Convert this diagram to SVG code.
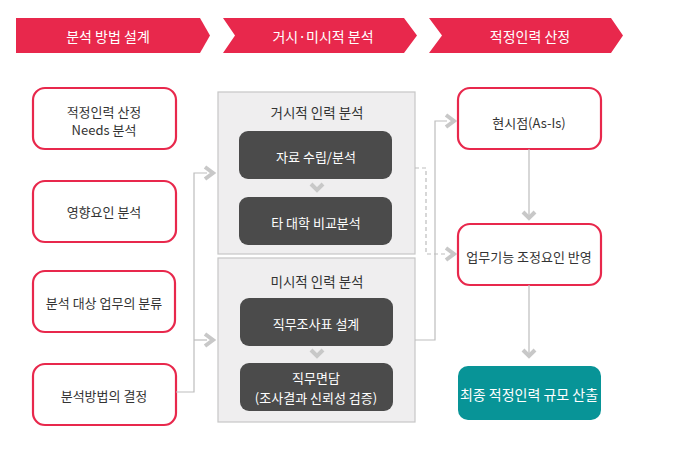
<svg xmlns="http://www.w3.org/2000/svg" width="700" height="458" viewBox="0 0 700 458">
<style>
text{font-family:"Noto Sans CJK KR","Noto Sans",sans-serif;text-anchor:middle;dominant-baseline:central}
.hd{fill:#e8284c}
.hdt{fill:#fff;font-size:14px}
.rb{fill:#fff;stroke:#e8284c;stroke-width:2.2}
.rt{fill:#333;font-size:13px}
.pn{fill:#efeeef;stroke:#c6c6c6;stroke-width:1.2}
.pt{fill:#333;font-size:13.5px}
.db{fill:#4b4b4b}
.dt{fill:#fff;font-size:13px}
.tb{fill:#089497}
.tt{fill:#fff;font-size:14px}
.ln{fill:none;stroke:#bdbdbd;stroke-width:1.2}
.dl{fill:none;stroke:#bdbdbd;stroke-width:1.2;stroke-dasharray:4 3}
.ch{fill:none;stroke:#c8c8c8;stroke-width:4;stroke-linejoin:miter}
</style>
<g id="header1"><polygon class="hd" points="16,18 200,18 210,35.5 200,53 16,53"/><text class="hdt" x="108" y="35.5">분석 방법 설계</text></g>
<g id="header2"><polygon class="hd" points="223,18 404,18 417,35.5 404,53 223,53 235,35.5"/><text class="hdt" x="323" y="35.5">거시·미시적 분석</text></g>
<g id="header3"><polygon class="hd" points="429,18 611,18 623,35.5 611,53 429,53 442,35.5"/><text class="hdt" x="530" y="35.5">적정인력 산정</text></g>

<g id="n1"><rect class="rb" x="33" y="88" width="143" height="61" rx="12"/><text class="rt" x="104" y="111">적정인력 산정</text><text class="rt" x="104" y="129.5">Needs 분석</text></g>
<g id="n2"><rect class="rb" x="33" y="181" width="143" height="61" rx="12"/><text class="rt" x="104" y="211">영향요인 분석</text></g>
<g id="n3"><rect class="rb" x="33" y="271" width="142" height="61" rx="12"/><text class="rt" x="104" y="302">분석 대상 업무의 분류</text></g>
<g id="n4"><rect class="rb" x="33" y="364" width="143" height="61" rx="12"/><text class="rt" x="104" y="395">분석방법의 결정</text></g>

<g id="macro"><rect class="pn" x="218" y="92" width="197" height="162"/><text class="pt" x="317" y="112">거시적 인력 분석</text></g>
<g id="m1"><rect class="db" x="239" y="131" width="153" height="48" rx="9"/><text class="dt" x="316" y="156">자료 수립/분석</text></g>
<g id="m2"><rect class="db" x="239" y="197" width="153" height="48" rx="9"/><text class="dt" x="316" y="222">타 대학 비교분석</text></g>

<g id="micro"><rect class="pn" x="218" y="258" width="197" height="164"/><text class="pt" x="317" y="281">미시적 인력 분석</text></g>
<g id="u1"><rect class="db" x="240" y="298" width="153" height="48" rx="9"/><text class="dt" x="316" y="323">직무조사표 설계</text></g>
<g id="u2"><rect class="db" x="240" y="363" width="153" height="48" rx="9"/><text class="dt" x="316" y="377">직무면담</text><text class="dt" x="316" y="397">(조사결과 신뢰성 검증)</text></g>

<g id="r1"><rect class="rb" x="458" y="88" width="143" height="61" rx="12"/><text class="rt" x="529" y="122">현시점(As-Is)</text></g>
<g id="r2"><rect class="rb" x="458" y="224" width="143" height="61" rx="12"/><text class="rt" x="529" y="256">업무기능 조정요인 반영</text></g>
<g id="r3"><rect class="tb" x="458" y="366" width="143" height="54" rx="10"/><text class="tt" x="529" y="394">최종 적정인력 규모 산출</text></g>

<g id="connectors">
<polyline class="ln" points="176,392 194,392 194,173 207,173"/>
<polyline class="ln" points="194,340 207,340"/>
<polyline class="ch" points="205,167 213,173 205,179"/>
<polyline class="ch" points="205,334 213,340 205,346"/>
<polyline class="ch" points="311,184 317,190 323,184"/>
<polyline class="ch" points="311,350 317,356 323,350"/>
<polyline class="dl" points="415,168 426,168 426,254 447,254"/>
<polyline class="ln" points="415,340 435,340 435,121 447,121"/>
<polyline class="ch" points="446,115 454,121 446,127"/>
<polyline class="ch" points="446,248 454,254 446,260"/>
<polyline class="ln" points="529,149 529,218"/>
<polyline class="ch" points="523,212 529,218 535,212"/>
<polyline class="ln" points="529,285 529,356"/>
<polyline class="ch" points="523,350 529,356 535,350"/>
</g>
</svg>
